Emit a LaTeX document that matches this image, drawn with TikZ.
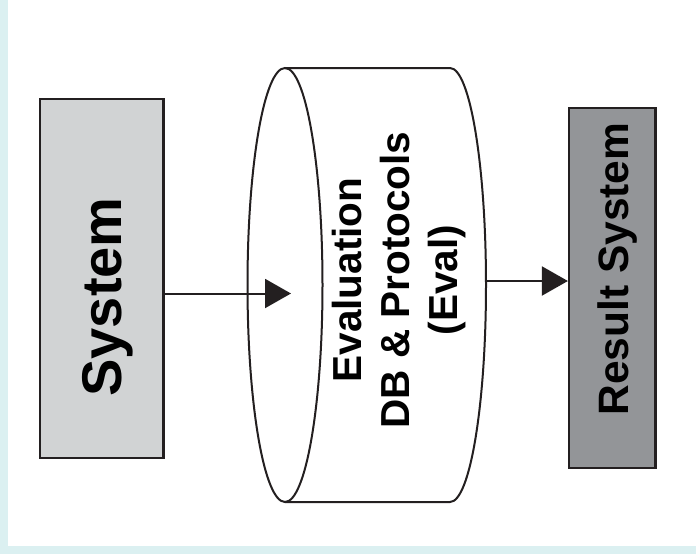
\documentclass[tikz,border=0pt]{standalone}
\usepackage{fontspec}
\setmainfont{Liberation Sans}
\usetikzlibrary{arrows.meta}
\definecolor{ink}{RGB}{35,31,32}
\definecolor{light}{RGB}{209,211,212}
\definecolor{dark}{RGB}{147,149,152}
\definecolor{edge}{RGB}{219,240,241}
\begin{document}
\begin{tikzpicture}[x=1pt,y=-1pt,line width=2pt,draw=ink,
	box/.style={draw=ink,line width=2.2pt,inner sep=0pt},
	flow/.style={draw=ink,-{Triangle[length=26pt,width=29pt]}}]
			\useasboundingbox (0,0) rectangle (696,554);
			\fill [edge] (0,0) rectangle (696,554);
			\fill [white] (8,0) rectangle (696,546);
			\node [box,fill=light,minimum width=123.5pt,minimum height=359pt] (sys) at (101.75,278.5) {};
			\node [rotate=90,anchor=base,font=\fontsize{56}{60}\selectfont\bfseries] (systxt) at (121.5,297) {System};
			\node [box,fill=dark,minimum width=86.5pt,minimum height=360pt] (res) at (612.25,288) {};
			\node [rotate=90,anchor=base,font=\fontsize{42.5}{48}\selectfont\bfseries] (restxt) at (628.3,269) {Result System};
			\draw (285,285) ellipse [x radius=37.5,y radius=217];
			\draw (285,68) -- (450,68) arc [start angle=-90,end angle=90,x radius=36,y radius=217] -- (285,502);
			\node [rotate=90,align=center,font=\fontsize{40.5}{48}\selectfont\bfseries] (eval) at (399,280) {Evaluation\\DB \& Protocols\\(Eval)};
			\coordinate (in) at (291,293.5);
			\coordinate (out) at (486,281);
			\draw [flow] (sys.east |- in) -- (in);
			\draw [flow] (out) -- (res.west |- out);
	 	\end{tikzpicture}
\end{document}
